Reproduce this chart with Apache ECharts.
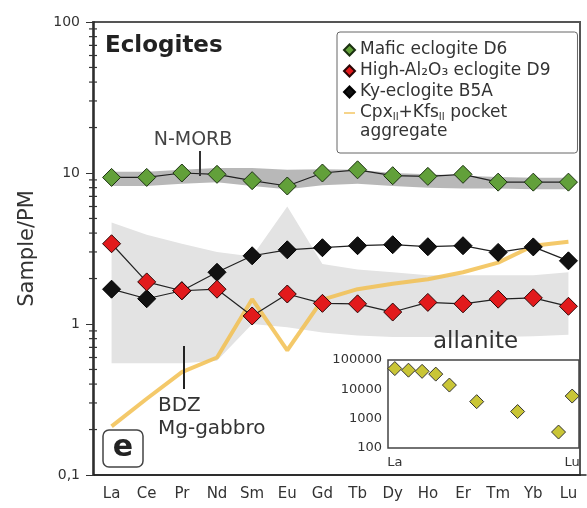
<!DOCTYPE html>
<html>
<head>
<meta charset="utf-8">
<script src="https://cdn.jsdelivr.net/npm/echarts@6/dist/echarts.min.js"></script>
<style>
  html, body { margin: 0; padding: 0; background: #fff; }
  #chart { width: 587px; height: 508px; }
</style>
</head>
<body>
<div id="chart"></div>
<script>
// REE patterns, normalised to primitive mantle
const elements = ['La', 'Ce', 'Pr', 'Nd', 'Sm', 'Eu', 'Gd', 'Tb', 'Dy', 'Ho', 'Er', 'Tm', 'Yb', 'Lu'];
const maficD6 = [9.35, 9.35, 10.0, 9.8, 8.9, 8.2, 10.0, 10.5, 9.6, 9.5, 9.8, 8.7, 8.7, 8.7];
const highAlD9 = [3.4, 1.9, 1.66, 1.7, 1.13, 1.58, 1.37, 1.36, 1.2, 1.39, 1.36, 1.46, 1.49, 1.31];
const kyB5A = [1.7, 1.47, 1.66, 2.2, 2.83, 3.1, 3.2, 3.3, 3.35, 3.25, 3.3, 2.98, 3.24, 2.62];
const pocket = [0.21, 0.32, 0.48, 0.6, 1.46, 0.67, 1.45, 1.7, 1.85, 1.98, 2.2, 2.55, 3.3, 3.5];

// reference fields
const morbUpper = [10.2, 10.2, 10.5, 10.8, 10.8, 10.5, 10.6, 10.5, 10.0, 9.8, 9.6, 9.4, 9.3, 9.3];
const morbLower = [8.2, 8.2, 8.5, 8.7, 8.2, 7.8, 8.3, 8.5, 8.2, 8.0, 7.9, 7.9, 7.8, 7.8];
const bdzUpper = [4.7, 3.9, 3.4, 3.0, 2.8, 6.0, 2.5, 2.3, 2.2, 2.1, 2.1, 2.1, 2.1, 2.2];
const bdzLower = [0.55, 0.55, 0.55, 0.57, 1.0, 0.95, 0.88, 0.84, 0.82, 0.82, 0.82, 0.82, 0.83, 0.85];

// inset: allanite
const allanite = [51000, 45000, 41000, 33000, 14000, '-', 3800, '-', '-', 1750, '-', '-', 350, 5900];

const minorTicks = [0.2, 0.3, 0.4, 0.5, 0.6, 0.7, 0.8, 0.9, 2, 3, 4, 5, 6, 7, 8, 9, 20, 30, 40, 50, 60, 70, 80, 90];

const FONT = 'DejaVu Sans';
const nameD6 = 'Mafic eclogite D6';
const nameD9 = 'High-Al₂O₃ eclogite D9';
const nameB5A = 'Ky-eclogite B5A';
const namePocket = 'Cpx-Kfs pocket';

function band(upper, lower, color) {
    return {
        type: 'custom',
        xAxisIndex: 0,
        yAxisIndex: 0,
        z: 1,
        silent: true,
        data: [[0, 1]],
        renderItem: function (params, api) {
            let pts = [];
            upper.forEach((v, i) => pts.push(api.coord([i, v])));
            for (let i = lower.length - 1; i >= 0; i--) pts.push(api.coord([i, lower[i]]));
            return {type: 'polygon', shape: {points: pts}, style: {fill: color}};
        }
    };
}

// connecting line (no legend entry) + diamond markers
function pattern(name, values, fill, border) {
    return [
        {type: 'line', data: values, symbol: 'none', z: 3, silent: true,
            lineStyle: {color: '#222', width: 1.2}},
        {name: name, type: 'scatter', data: values, symbol: 'diamond', symbolSize: 18, z: 4,
            itemStyle: {color: fill, borderColor: border, borderWidth: 1, opacity: 1}}
    ];
}

let chart = echarts.init(document.getElementById('chart'));
chart.setOption({
    animation: false,
    textStyle: {fontFamily: FONT},
    grid: [
        {left: 94, right: 1, top: 22, bottom: 33},
        {left: 388, right: 8, top: 360, height: 88, show: true, borderColor: '#444', borderWidth: 1.5, backgroundColor: '#fff', z: 5}
    ],
    legend: {
        orient: 'vertical',
        left: 337,
        top: 32,
        padding: [9, 27, 31, 6],
        itemWidth: 11,
        itemHeight: 11,
        itemGap: 3,
        borderColor: '#666',
        borderWidth: 1,
        borderRadius: 3,
        backgroundColor: '#fff',
        z: 6,
        textStyle: {fontFamily: FONT, fontSize: 17, color: '#333', lineHeight: 18,
            rich: {s: {fontSize: 10, verticalAlign: 'bottom', padding: [7, 0, 0, 0], fontFamily: FONT, color: '#333'}}},
        formatter: function (name) {
            if (name === namePocket) return 'Cpx{s|II}+Kfs{s|II} pocket';
            return name;
        },
        data: [nameD6, nameD9, nameB5A,
            {name: namePocket, icon: 'path://M0,0 L14,0 L14,2 L0,2 Z', itemStyle: {color: 'rgba(242,192,80,0.85)'}}]
    },
    xAxis: [
        {
            type: 'category', gridIndex: 0, data: elements, boundaryGap: true,
            axisLine: {lineStyle: {color: '#222', width: 1.5}},
            axisTick: {alignWithLabel: true, length: 5, lineStyle: {color: '#333'}},
            axisLabel: {fontSize: 15, color: '#333', margin: 12, fontFamily: FONT, interval: 0}
        },
        {
            type: 'category', gridIndex: 1, data: elements, boundaryGap: true,
            axisLine: {show: false}, axisTick: {show: false},
            axisLabel: {fontSize: 13, color: '#333', margin: 8, fontFamily: FONT,
                interval: (i) => i === 0 || i === elements.length - 1}
        }
    ],
    yAxis: [
        {
            type: 'log', gridIndex: 0, logBase: 10, min: 0.1, max: 100,
            name: 'Sample/PM', nameLocation: 'middle', nameGap: 56,
            nameTextStyle: {fontSize: 21, color: '#333', fontFamily: FONT},
            axisLine: {show: true, lineStyle: {color: '#222', width: 1.5}},
            axisTick: {show: true, length: 8, lineStyle: {color: '#333'}},
            splitLine: {show: false},
            axisLabel: {fontSize: 14, color: '#333', margin: 14, fontFamily: FONT,
                formatter: (v) => String(Number(v.toPrecision(3))).replace('.', ',')}
        },
        {
            type: 'log', gridIndex: 1, logBase: 10, min: 100, max: 100000,
            axisLine: {show: false}, axisTick: {show: false}, splitLine: {show: false},
            axisLabel: {fontSize: 13, color: '#333', margin: 6, fontFamily: FONT,
                formatter: (v) => String(Math.round(v))}
        }
    ],
    series: [
        band(bdzUpper, bdzLower, '#e3e3e3'),
        band(morbUpper, morbLower, 'rgba(125,125,125,0.55)'),
        {
            // log-spaced minor ticks on the left axis
            type: 'custom', xAxisIndex: 0, yAxisIndex: 0, silent: true, z: 5, clip: false,
            data: [[0, 1]],
            renderItem: function (params, api) {
                let x = api.coord([0, 1])[0] - api.size([1, 1])[0] / 2;
                let marks = minorTicks.map(function (v) {
                    let y = api.coord([0, v])[1];
                    return {type: 'rect', shape: {x: x - 5, y: y - 0.6, width: 8, height: 1.2}, style: {fill: '#333'}};
                });
                return {type: 'group', children: marks};
            }
        },
        {
            name: namePocket, type: 'line', data: pocket, symbol: 'none', z: 2,
            itemStyle: {color: 'rgba(242,192,80,0.85)'},
            lineStyle: {color: 'rgba(242,192,80,0.85)', width: 4}
        },
        ...pattern(nameB5A, kyB5A, '#111', '#000'),
        ...pattern(nameD9, highAlD9, '#e21a1c', '#2a0505'),
        ...pattern(nameD6, maficD6, '#62a03a', '#1a3010'),
        {
            name: 'allanite', type: 'scatter', xAxisIndex: 1, yAxisIndex: 1, data: allanite,
            symbol: 'diamond', symbolSize: 14, z: 6,
            itemStyle: {color: '#c9c536', borderColor: '#333', borderWidth: 1, opacity: 1}
        }
    ],
    graphic: [
        {type: 'rect', shape: {x: 93, y: 22, width: 487, height: 453}, z: 0,
            style: {fill: 'transparent', stroke: '#555', lineWidth: 2}},
        {type: 'text', x: 105, y: 46, z: 10,
            style: {text: 'Eclogites', fontFamily: FONT, fontSize: 23, fontWeight: 'bold', fill: '#222', verticalAlign: 'middle'}},
        {type: 'text', x: 360, y: 132, z: 10,
            style: {text: 'aggregate', fontFamily: FONT, fontSize: 17, fill: '#333', verticalAlign: 'middle'}},
        {type: 'text', x: 193, y: 140, z: 10,
            style: {text: 'N-MORB', fontFamily: FONT, fontSize: 19, fill: '#444', align: 'center', verticalAlign: 'middle'}},
        {type: 'line', shape: {x1: 200, y1: 151, x2: 200, y2: 176}, z: 10, style: {stroke: '#333', lineWidth: 2}},
        {type: 'line', shape: {x1: 184, y1: 346, x2: 184, y2: 389}, z: 10, style: {stroke: '#222', lineWidth: 2}},
        {type: 'text', x: 158, y: 406, z: 10,
            style: {text: 'BDZ', fontFamily: FONT, fontSize: 20, fill: '#333', verticalAlign: 'middle'}},
        {type: 'text', x: 158, y: 429, z: 10,
            style: {text: 'Mg-gabbro', fontFamily: FONT, fontSize: 20, fill: '#333', verticalAlign: 'middle'}},
        {type: 'text', x: 433, y: 342, z: 10,
            style: {text: 'allanite', fontFamily: FONT, fontSize: 23, fill: '#333', verticalAlign: 'middle'}},
        {type: 'rect', shape: {x: 103, y: 430, width: 40, height: 37, r: 6}, z: 10,
            style: {fill: '#fff', stroke: '#444', lineWidth: 1.5}},
        {type: 'text', x: 123, y: 448, z: 11,
            style: {text: 'e', fontFamily: FONT, fontSize: 30, fontWeight: 'bold', fill: '#222', align: 'center', verticalAlign: 'middle'}}
    ]
});
</script>
</body>
</html>
